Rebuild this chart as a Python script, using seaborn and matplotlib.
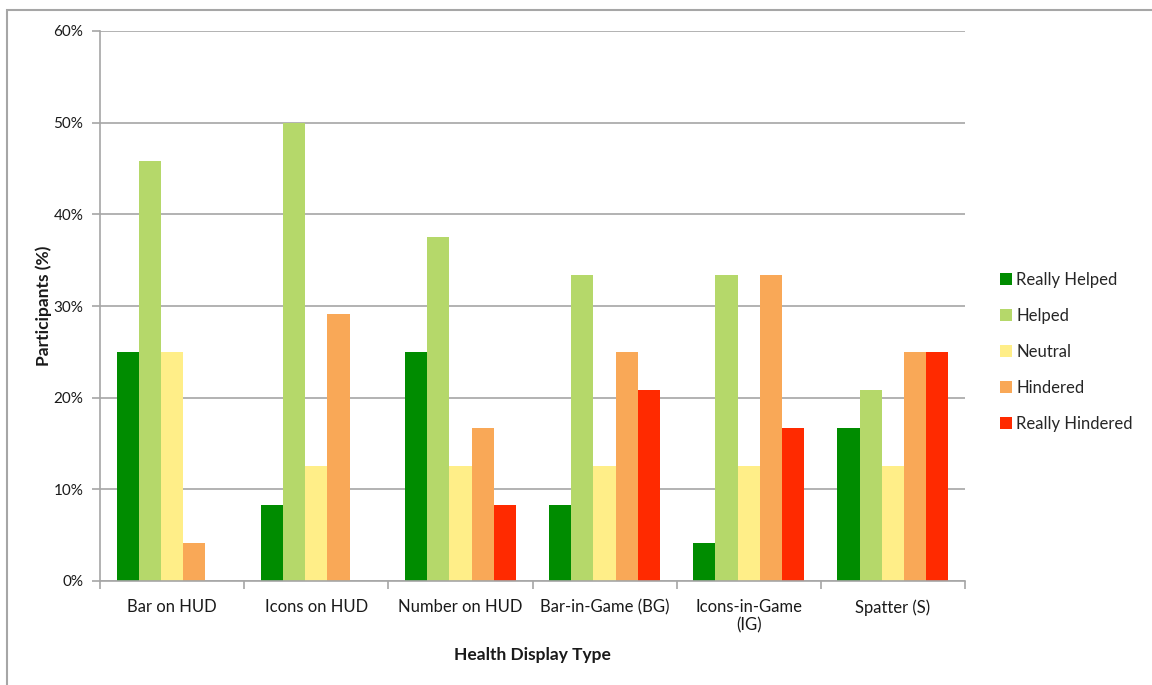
import matplotlib
matplotlib.use("Agg")
import matplotlib.pyplot as plt
from matplotlib.patches import Rectangle, Patch
from matplotlib.ticker import FixedLocator, PercentFormatter
import seaborn as sns
import pandas as pd

categories = ["Bar on HUD", "Icons on HUD", "Number on HUD",
              "Bar-in-Game (BG)", "Icons-in-Game\n(IG)", "Spatter (S)"]
responses = ["Really Helped", "Helped", "Neutral", "Hindered", "Really Hindered"]

really_helped = [25.0, 8.33, 25.0, 8.33, 4.17, 16.67]
helped = [45.83, 50.0, 37.5, 33.33, 33.33, 20.83]
neutral = [25.0, 12.5, 12.5, 12.5, 12.5, 12.5]
hindered = [4.17, 29.17, 16.67, 25.0, 33.33, 25.0]
really_hindered = [0.0, 0.0, 8.33, 20.83, 16.67, 25.0]

colors = ["#008C00", "#B5D86A", "#FFEE88", "#F9A857", "#FF2A00"]
y_ticks = [0, 10, 20, 30, 40, 50, 60]

series = [really_helped, helped, neutral, hindered, really_hindered]
df = pd.DataFrame(
    [(cat, resp, vals[i])
     for resp, vals in zip(responses, series)
     for i, cat in enumerate(categories)],
    columns=["category", "response", "percent"],
)

sns.set_theme(style="white")
plt.rcParams["font.family"] = ["Lato", "DejaVu Sans"]

fig = plt.figure(figsize=(11.52, 6.85), dpi=100)
ax = fig.add_axes([100 / 1152, 1 - 581 / 685, 865 / 1152, 550 / 685])

sns.barplot(data=df, x="category", y="percent", hue="response",
            order=categories, hue_order=responses, palette=colors,
            width=0.77, saturation=1, ax=ax, legend=False, linewidth=0)

grid_c = "#A6A6A6"
text_c = "#1a1a1a"
ax.set_ylim(0, 60)
ax.set_xlim(-0.5, len(categories) - 0.5)
ax.set_yticks(y_ticks)
ax.yaxis.set_major_formatter(PercentFormatter(decimals=0))
ax.yaxis.grid(True, color=grid_c, linewidth=1.2)
ax.set_axisbelow(True)

# category tick marks sit between groups; labels stay centered
ax.xaxis.set_major_locator(FixedLocator(range(len(categories))))
ax.set_xticks([i - 0.5 for i in range(len(categories) + 1)], minor=True)
ax.set_xticklabels(categories, fontsize=12, color=text_c, linespacing=1.15)
ax.tick_params(axis="x", which="major", length=0, pad=13)
ax.tick_params(axis="x", which="minor", length=6, width=1.2, color=grid_c,
               direction="out", bottom=True)
ax.tick_params(axis="y", length=6, width=1.2, color=grid_c, direction="out",
               left=True, labelsize=11, labelcolor=text_c, pad=6)

for side in ["top", "right"]:
    ax.spines[side].set_visible(False)
for side in ["left", "bottom"]:
    ax.spines[side].set_color(grid_c)
    ax.spines[side].set_linewidth(1.2)

ax.set_xlabel("Health Display Type", fontsize=12.5, fontweight="bold",
              color=text_c, labelpad=10)
ax.set_ylabel("Participants (%)", fontsize=12.5, fontweight="bold",
              color=text_c, labelpad=1)

handles = [Patch(facecolor=c, edgecolor="none") for c in colors]
fig.legend(handles, responses, loc="center left",
           bbox_to_anchor=(993 / 1152, 1 - 352 / 685), frameon=False,
           fontsize=12, handlelength=0.75, handleheight=0.75,
           handletextpad=0.25, labelspacing=1.2, borderaxespad=0)

# outer chart frame
fig.patches.append(Rectangle((7 / 1152, -0.1), 1.2, 1.1 - 10 / 685,
                             transform=fig.transFigure, fill=False,
                             edgecolor=grid_c, linewidth=1.5))

fig.savefig("out.png", dpi=100)
